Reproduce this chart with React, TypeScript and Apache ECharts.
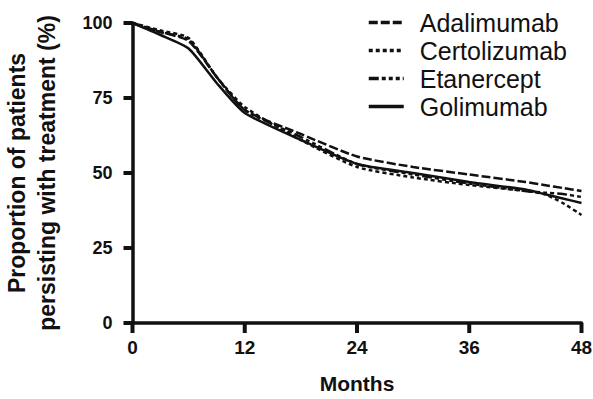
import React, { useEffect, useRef } from "react";
import * as echarts from "echarts";

const months = [0, 3, 6, 9, 12, 18, 24, 30, 36, 42, 44, 46, 48];
const adalimumab = [100, 97, 94, 82, 71, 63, 55.5, 52, 49.5, 47, 46, 45, 44];
const certolizumab = [100, 97.5, 95, 82, 72, 61, 52, 48.5, 46, 44, 43, 40, 36];
const etanercept = [100, 97, 94.5, 82, 71, 62, 53, 49.5, 46.5, 44, 43.5, 43, 42];
const golimumab = [100, 96, 91.5, 80, 70, 61, 53, 50, 47, 44.5, 43, 41.5, 40];
const xTicks = [0, 12, 24, 36, 48];
const yTicks = [0, 25, 50, 75, 100];

const seriesNames = ["Adalimumab", "Certolizumab", "Etanercept", "Golimumab"];
const seriesData = [adalimumab, certolizumab, etanercept, golimumab];
const dashTypes: any[] = [[9, 3], [4, 3], [10, 3, 4, 3, 4, 3, 4, 3], "solid"];

const FONT = "'Liberation Sans', Arial, Helvetica, sans-serif";
const INK = "#111";

export default function App() {
  const ref = useRef<HTMLDivElement>(null);
  useEffect(() => {
    if (!ref.current) return;
    const chart = echarts.init(ref.current, null, { renderer: "svg" });
    chart.setOption({
      animation: false,
      backgroundColor: "#ffffff",
      grid: {
        left: 132.5,
        right: 11.5,
        top: 23,
        bottom: 76,
        containLabel: false,
        outerBoundsMode: "none",
      },
      legend: {
        orient: "vertical",
        left: 367,
        top: 10,
        padding: 0,
        itemWidth: 35,
        itemHeight: 14,
        itemGap: 3,
        data: seriesNames,
        itemStyle: { opacity: 0 },
        lineStyle: { width: 3.5 },
        textStyle: {
          fontFamily: FONT,
          fontSize: 25,
          lineHeight: 25,
          color: INK,
          padding: [0, 0, 0, 11],
        },
      },
      xAxis: {
        type: "value",
        min: 0,
        max: 48,
        interval: 12,
        name: "Months",
        nameLocation: "middle",
        nameGap: 50,
        nameTextStyle: { fontFamily: FONT, fontSize: 21, fontWeight: "bold", color: INK },
        axisLine: { show: true, onZero: false, lineStyle: { color: INK, width: 3.5 } },
        axisTick: { show: false },
        axisLabel: {
          fontFamily: FONT,
          fontSize: 19,
          fontWeight: "bold",
          color: INK,
          margin: 15,
          formatter: (v: number) => (xTicks.includes(v) ? String(v) : ""),
        },
        splitLine: { show: false },
      },
      yAxis: {
        type: "value",
        min: 0,
        max: 100,
        interval: 25,
        name: "Proportion of patients\npersisting with treatment (%)",
        nameLocation: "middle",
        nameGap: 71,
        nameTextStyle: {
          fontFamily: FONT,
          fontSize: 23,
          fontWeight: "bold",
          color: INK,
          lineHeight: 30,
        },
        axisLine: { show: true, onZero: false, lineStyle: { color: INK, width: 3.5 } },
        axisTick: { show: false },
        axisLabel: {
          fontFamily: FONT,
          fontSize: 18,
          fontWeight: "bold",
          color: INK,
          margin: 20,
          formatter: (v: number) => (yTicks.includes(v) ? String(v) : ""),
        },
        splitLine: { show: false },
      },
      series: seriesNames.map((name, i) => ({
        name,
        type: "line",
        data: months.map((m, j) => [m, seriesData[i][j]]),
        symbol: "none",
        smooth: 0.2,
        color: INK,
        lineStyle: { color: INK, width: 2.5, type: dashTypes[i] },
      })),
    });

    const tickEls: any[] = [];
    xTicks.forEach((t) => {
      const p = chart.convertToPixel({ xAxisIndex: 0, yAxisIndex: 0 }, [t, 0]) as number[];
      tickEls.push({
        type: "rect",
        z: 100,
        shape: { x: p[0] - 2, y: p[1], width: 4, height: 10 },
        style: { fill: INK },
      });
    });
    yTicks.forEach((t) => {
      const p = chart.convertToPixel({ xAxisIndex: 0, yAxisIndex: 0 }, [0, t]) as number[];
      tickEls.push({
        type: "rect",
        z: 100,
        shape: { x: p[0] - 9, y: p[1] - 2, width: 9, height: 4 },
        style: { fill: INK },
      });
    });
    chart.setOption({ graphic: { elements: tickEls } });

    return () => chart.dispose();
  }, []);
  return <div ref={ref} style={{ width: 593, height: 399, position: "absolute", left: 0, top: 0 }} />;
}
